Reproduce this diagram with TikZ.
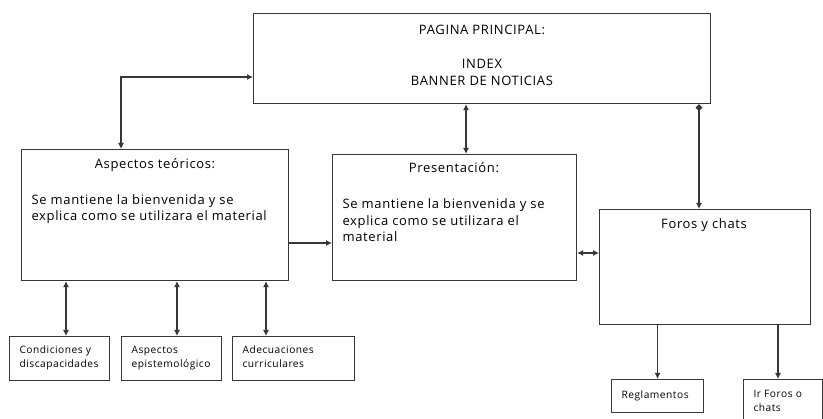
\documentclass[tikz,border=0pt]{standalone}
\usepackage{fontspec}
\setmainfont{Open Sans}[LetterSpace=5]
\usetikzlibrary{arrows.meta}
\definecolor{linea}{RGB}{55,55,55}
\begin{document}
\begin{tikzpicture}[
    x=1pt, y=-1pt,
    >={Latex[length=6pt,width=6pt]},
    line width=1.1pt,
    caja/.style={draw=linea, rectangle, anchor=north west, inner sep=0pt},
    txt/.style={inner sep=0pt, font=\fontsize{13}{16.5}\selectfont},
    chico/.style={inner sep=0pt, font=\fontsize{10.2}{14}\selectfont, align=left, anchor=base west},
    cuerpo/.style={txt, align=left, anchor=base west}
]
  \useasboundingbox (0,0) rectangle (823,419);
  \clip (0,0) rectangle (823,419);

  %--- boxes ---
  \node[caja, minimum width=457pt, minimum height=90pt]  (main)  at (253,13)  {};
  \node[caja, minimum width=267pt, minimum height=131pt] (teo)   at (21,149)  {};
  \node[caja, minimum width=244pt, minimum height=126pt] (pres)  at (332,154) {};
  \node[caja, minimum width=211pt, minimum height=115pt] (foros) at (599,209) {};
  \node[caja, minimum width=100pt, minimum height=44pt]  (cond)  at (9,336)   {};
  \node[caja, minimum width=100pt, minimum height=44pt]  (epis)  at (121,336) {};
  \node[caja, minimum width=122pt, minimum height=44pt]  (adec)  at (232,336) {};
  \node[caja, minimum width=92pt,  minimum height=33pt]  (regl)  at (611,379) {};
  \node[caja, minimum width=79pt,  minimum height=50pt]  (irf)   at (743,379) {};

  %--- texts ---
  \node[txt] (mainA) at (482,30) {PAGINA PRINCIPAL:};
  \node[txt] (mainB) at (482,64) {INDEX};
  \node[txt] (mainC) at (482,81) {BANNER DE NOTICIAS};
  \node[txt] (teoA) at (155,165) {Aspectos teóricos:};
  \node[cuerpo] (teoB) at (31,221) {Se mantiene la bienvenida y se\\explica como se utilizara el material};
  \node[txt] (presA) at (454,168) {Presentación:};
  \node[cuerpo] (presB) at (342,242) {Se mantiene la bienvenida y se\\explica como se utilizara el\\material};
  \node[txt] (forosA) at (704,225) {Foros y chats};
  \node[chico] (condA) at (19,368) {Condiciones y\\discapacidades};
  \node[chico] (episA) at (131,368) {Aspectos\\epistemológico};
  \node[chico] (adecA) at (242,368) {Adecuaciones\\curriculares};
  \node[chico] (reglA) at (621,399) {Reglamentos};
  \node[chico] (irfA)  at (753,412) {Ir Foros o\\chats};

  %--- helper points ---
  \coordinate (k1) at (121,77);
  \coordinate (k2) at (466,0);
  \coordinate (k3) at (699,0);
  \coordinate (k4) at (0,243);
  \coordinate (k5) at (0,253);

  %--- edges ---
  \draw[<->, linea] (teo.north -| k1) |- (main.west |- k1);
  \draw[<->, linea] (main.south -| k2) -- (pres.north -| k2);
  \draw[{Diamond[length=7pt,width=7pt]}->, linea] (main.south -| k3) -- (foros.north -| k3);
  \draw[->, linea] (teo.east |- k4) -- (pres.west |- k4);
  \draw[<->, linea] (pres.east |- k5) -- (foros.west |- k5);
  \foreach \px/\dest in {66/cond, 177/epis, 266/adec}
    \draw[<->, linea] (teo.south -| \px,0) -- (\dest.north -| \px,0);
  \draw[->, linea] (foros.south -| regl.north) -- (regl.north);
  \draw[->, linea] (foros.south -| 778,0) -- (irf.north -| 778,0);
\end{tikzpicture}
\end{document}
